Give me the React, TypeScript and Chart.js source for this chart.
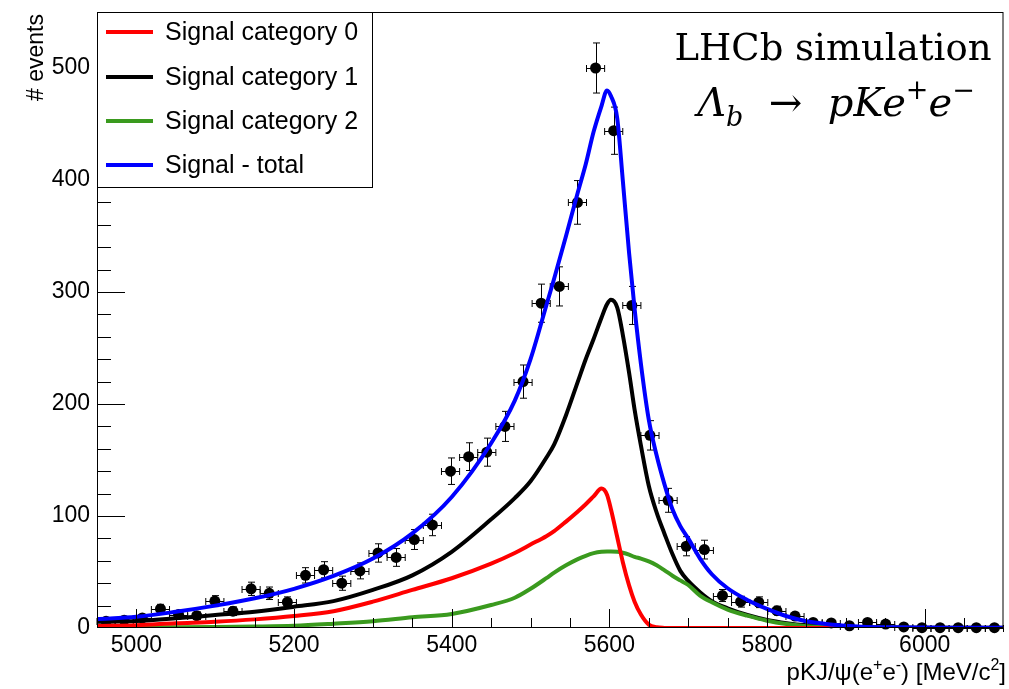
import { useEffect, useRef } from 'react';
import { Chart, registerables } from 'chart.js';

Chart.register(...registerables);

// Measured candidates: bin centres (MeV/c^2), bin half width and counts per bin
const binCenters = [
  4961.5, 4984.5, 5007.5, 5030.5, 5053.5, 5076.5, 5099.5, 5122.5, 5145.5, 5168.5,
  5191.5, 5214.5, 5237.5, 5260.5, 5283.5, 5306.5, 5329.5, 5352.5, 5375.5, 5398.5,
  5421.5, 5444.5, 5467.5, 5490.5, 5513.5, 5536.5, 5559.5, 5582.5, 5605.5, 5628.5,
  5651.5, 5674.5, 5697.5, 5720.5, 5743.5, 5766.5, 5789.5, 5812.5, 5835.5, 5858.5,
  5881.5, 5904.5, 5927.5, 5950.5, 5973.5, 5996.5, 6019.5, 6042.5, 6065.5, 6088.5,
];
const binHalfWidth = 11.5;
const eventCounts = [
  6, 7, 9, 17, 12, 11, 24, 15, 35, 31,
  23, 47, 52, 40, 51, 67, 63, 79, 92, 140,
  153, 157, 180, 220, 290, 305, 380, 500, 444, 288,
  172, 114, 73, 70, 29, 23.5, 23, 15.5, 10.7, 5,
  4.5, 2, 5, 3.5, 1, 0.3, 0.3, 0.3, 0.3, 0.3,
];

// Fitted signal shapes, sampled in mass
const curveMass = [
  4950, 5000, 5050, 5100, 5150, 5200, 5250, 5300, 5350, 5400,
  5450, 5480, 5500, 5520, 5530, 5545, 5560, 5570, 5580, 5590,
  5597, 5602, 5610, 5617, 5625, 5632, 5640, 5650, 5660, 5670,
  5680, 5690, 5700, 5715, 5730, 5750, 5775, 5800, 5825, 5850,
  5880, 5920, 5960, 6000, 6050, 6100,
];
const signalTotal = [
  8, 10, 14.5, 20, 26.5, 35, 46.5, 62, 84.5, 117,
  165, 203, 240, 288, 312, 350, 389, 414, 443, 466,
  480, 475, 455, 400, 335, 285, 236, 186, 154, 128,
  106, 91, 80, 62, 48, 35.5, 25, 17, 10.5, 6,
  3.2, 1.2, 0.6, 0.4, 0.3, 0.2,
];
const signalCat0 = [
  1.8, 2.5, 4.2, 5.6, 7.7, 10.7, 15, 23.5, 34, 44.4,
  57.5, 67, 74.5, 82, 86.5, 95, 104, 110.5, 117.5, 124.5,
  119, 106, 81, 59, 38, 23.5, 12, 3, 0.6, 0.1,
  0, 0, 0, 0, 0, 0, 0, 0, 0, 0,
  0, 0, 0, 0, 0, 0,
];
const signalCat1 = [
  5.5, 6.2, 8.6, 11.6, 14.6, 19, 24, 34, 47, 68,
  97, 116, 131, 152, 164, 190, 220, 240, 258, 277,
  289, 293, 286, 262, 228, 195, 163, 127, 103, 84,
  66, 51, 42, 32, 24, 17.6, 11.6, 7.2, 4.3, 2.4,
  1.2, 0.6, 0.4, 0.3, 0.2, 0.2,
];
const signalCat2 = [
  0.6, 0.6, 0.7, 0.9, 1.3, 2, 3.8, 6, 9.5, 12.5,
  20.5, 27, 35, 44.5, 49.5, 56, 61.5, 64.5, 66.8, 68,
  68.2, 68.2, 68, 67.2, 65.5, 63.5, 62, 59.5, 56, 51.5,
  46.7, 42.5, 38.4, 29, 23, 16.5, 11, 6.5, 3.5, 1.5,
  0.6, 0.3, 0.2, 0.1, 0, 0,
];

const xRange = [4950, 6100];
const yRange = [0, 550];
const xMajorTicks = [5000, 5200, 5400, 5600, 5800, 6000];
const yMajorTicks = [0, 100, 200, 300, 400, 500];
const xMinorStep = 50;
const yMinorStep = 20;

const legendLabels = ['Signal category 0', 'Signal category 1', 'Signal category 2', 'Signal - total'];
const COLOR_CAT0 = '#ff0000';
const COLOR_CAT1 = '#000000';
const COLOR_CAT2 = '#3a9a1e';
const COLOR_TOTAL = '#0000ff';
const legendColors = [COLOR_CAT0, COLOR_CAT1, COLOR_CAT2, COLOR_TOTAL];

const SANS = "'Liberation Sans', Arial, Helvetica, sans-serif";
const SERIF = "'DejaVu Serif', 'Liberation Serif', serif";

type Seg = { t: string; sup?: boolean; sub?: boolean; italic?: boolean };

function drawSegments(
  ctx: CanvasRenderingContext2D,
  segs: Seg[],
  x: number,
  y: number,
  size: number,
  family: string,
  align: 'left' | 'right' | 'center',
) {
  const fontFor = (s: Seg) =>
    `${s.italic ? 'italic ' : ''}${s.sup || s.sub ? Math.round(size * 0.68) : size}px ${family}`;
  let total = 0;
  const widths = segs.map((s) => {
    ctx.font = fontFor(s);
    const w = ctx.measureText(s.t).width;
    total += w;
    return w;
  });
  let cx = align === 'right' ? x - total : align === 'center' ? x - total / 2 : x;
  ctx.textAlign = 'left';
  ctx.textBaseline = 'alphabetic';
  segs.forEach((s, i) => {
    ctx.font = fontFor(s);
    const dy = s.sup ? -size * 0.42 : s.sub ? size * 0.25 : 0;
    ctx.fillText(s.t, cx, y + dy);
    cx += widths[i];
  });
}

const decorPlugin = {
  id: 'decor',
  beforeDatasetsDraw(chart: any) {
    // error bars of the measured points
    const { ctx, scales } = chart;
    const xs = scales.x;
    const ys = scales.y;
    ctx.save();
    ctx.strokeStyle = '#000';
    ctx.lineWidth = 1;
    binCenters.forEach((m, i) => {
      const v = eventCounts[i];
      const err = Math.sqrt(v);
      const px = Math.round(xs.getPixelForValue(m)) + 0.5;
      const py = Math.round(ys.getPixelForValue(v)) + 0.5;
      const xl = xs.getPixelForValue(m - binHalfWidth);
      const xr = xs.getPixelForValue(m + binHalfWidth);
      const yt = ys.getPixelForValue(v + err);
      const yb = ys.getPixelForValue(Math.max(v - err, 0));
      const c = 3.5;
      ctx.beginPath();
      ctx.moveTo(xl, py);
      ctx.lineTo(xr, py);
      ctx.moveTo(xl, py - c);
      ctx.lineTo(xl, py + c);
      ctx.moveTo(xr, py - c);
      ctx.lineTo(xr, py + c);
      ctx.moveTo(px, yt);
      ctx.lineTo(px, yb);
      ctx.moveTo(px - c, yt);
      ctx.lineTo(px + c, yt);
      ctx.moveTo(px - c, yb);
      ctx.lineTo(px + c, yb);
      ctx.stroke();
    });
    ctx.restore();
  },
  afterDatasetsDraw(chart: any) {
    // frame and inward tick marks
    const { ctx, chartArea, scales } = chart;
    const xs = scales.x;
    const ys = scales.y;
    const { left, right, top, bottom } = chartArea;
    ctx.save();
    ctx.strokeStyle = '#000';
    ctx.lineWidth = 1;
    ctx.strokeRect(left + 0.5, top + 0.5, right - left - 1, bottom - top - 1);
    ctx.beginPath();
    for (let v = xRange[0] + xMinorStep; v < xRange[1]; v += xMinorStep) {
      const px = Math.round(xs.getPixelForValue(v)) + 0.5;
      const len = xMajorTicks.includes(v) ? 19 : 10;
      ctx.moveTo(px, bottom);
      ctx.lineTo(px, bottom - len);
    }
    for (let v = yRange[0] + yMinorStep; v < yRange[1]; v += yMinorStep) {
      const py = Math.round(ys.getPixelForValue(v)) + 0.5;
      const len = yMajorTicks.includes(v) ? 28 : 14;
      ctx.moveTo(left, py);
      ctx.lineTo(left + len, py);
    }
    ctx.stroke();
    ctx.restore();
  },
  afterDraw(chart: any) {
    const { ctx, chartArea } = chart;
    ctx.save();

    // legend box
    const bx = chartArea.left + 0.5;
    const by = chartArea.top + 0.5;
    const bw = 275;
    const bh = 175;
    ctx.fillStyle = '#fff';
    ctx.fillRect(bx, by, bw, bh);
    ctx.strokeStyle = '#000';
    ctx.lineWidth = 1;
    ctx.strokeRect(bx, by, bw, bh);
    const rowY = [32, 77, 121, 165];
    legendLabels.forEach((lab, i) => {
      ctx.strokeStyle = legendColors[i];
      ctx.lineWidth = 4;
      ctx.beginPath();
      ctx.moveTo(106, rowY[i]);
      ctx.lineTo(153, rowY[i]);
      ctx.stroke();
      ctx.fillStyle = '#000';
      ctx.font = `25px ${SANS}`;
      ctx.textAlign = 'left';
      ctx.textBaseline = 'middle';
      ctx.fillText(lab, 165, rowY[i] + 1);
    });

    // y axis title
    ctx.save();
    ctx.translate(43, 14);
    ctx.rotate(-Math.PI / 2);
    ctx.fillStyle = '#000';
    ctx.font = `23px ${SANS}`;
    ctx.textAlign = 'right';
    ctx.textBaseline = 'alphabetic';
    ctx.fillText('# events', 0, 0);
    ctx.restore();

    // x axis title
    ctx.fillStyle = '#000';
    drawSegments(
      ctx,
      [
        { t: 'pKJ/\u03c8(e' },
        { t: '+', sup: true },
        { t: 'e' },
        { t: '-', sup: true },
        { t: ') [MeV/c' },
        { t: '2', sup: true },
        { t: ']' },
      ],
      1006,
      680,
      24,
      SANS,
      'right',
    );

    // experiment label
    ctx.font = `37px ${SERIF}`;
    ctx.textAlign = 'center';
    ctx.textBaseline = 'alphabetic';
    ctx.fillText('LHCb simulation', 833, 60);
    drawSegments(
      ctx,
      [
        { t: '\u039b', italic: true },
        { t: 'b', italic: true, sub: true },
        { t: '  \u2192  ' },
        { t: 'pKe', italic: true },
        { t: '+', sup: true },
        { t: 'e', italic: true },
        { t: '\u2212', sup: true },
      ],
      836,
      116,
      40,
      SERIF,
      'center',
    );
    ctx.restore();
  },
};

function toPoints(ys: number[]) {
  return curveMass.map((m, i) => ({ x: m, y: ys[i] }));
}

export default function App() {
  const canvasRef = useRef<HTMLCanvasElement | null>(null);

  useEffect(() => {
    document.body.style.margin = '0';
    const canvas = canvasRef.current;
    if (!canvas) return;
    const curve = (data: number[], color: string, order: number) => ({
      data: toPoints(data),
      showLine: true,
      borderColor: color,
      backgroundColor: color,
      borderWidth: 4,
      borderJoinStyle: 'round' as const,
      pointRadius: 0,
      cubicInterpolationMode: 'monotone' as const,
      fill: false,
      order,
    });
    const chart = new Chart(canvas, {
      type: 'scatter',
      data: {
        datasets: [
          { label: legendLabels[3], ...curve(signalTotal, COLOR_TOTAL, 0) },
          { label: legendLabels[0], ...curve(signalCat0, COLOR_CAT0, 1) },
          { label: legendLabels[2], ...curve(signalCat2, COLOR_CAT2, 2) },
          { label: legendLabels[1], ...curve(signalCat1, COLOR_CAT1, 3) },
          {
            label: 'Data',
            data: binCenters.map((m, i) => ({ x: m, y: eventCounts[i] })),
            showLine: false,
            pointRadius: 5.5,
            pointBackgroundColor: '#000',
            pointBorderWidth: 0,
            order: 4,
            clip: false,
          } as any,
        ],
      },
      options: {
        responsive: false,
        maintainAspectRatio: false,
        devicePixelRatio: 1,
        animation: false,
        events: [],
        layout: { padding: { left: 0, right: 2, top: 12, bottom: 0 } },
        plugins: {
          legend: { display: false },
          tooltip: { enabled: false },
        },
        scales: {
          x: {
            type: 'linear',
            min: xRange[0],
            max: xRange[1],
            grid: { display: false, drawTicks: false },
            border: { display: false },
            ticks: {
              padding: 4,
              color: '#000',
              font: { family: SANS, size: 23 },
              maxRotation: 0,
              callback: (v: any) => String(v),
            },
            afterBuildTicks: (s: any) => {
              s.ticks = xMajorTicks.map((v) => ({ value: v }));
            },
            afterFit: (s: any) => {
              s.height = 61;
              s.paddingLeft = 0;
              s.paddingRight = 0;
            },
          },
          y: {
            type: 'linear',
            min: yRange[0],
            max: yRange[1],
            grid: { display: false, drawTicks: false },
            border: { display: false },
            ticks: {
              padding: 7,
              color: '#000',
              font: { family: SANS, size: 23 },
              callback: (v: any) => String(v),
            },
            afterBuildTicks: (s: any) => {
              s.ticks = yMajorTicks.map((v) => ({ value: v }));
            },
            afterFit: (s: any) => {
              s.width = 97;
              s.paddingTop = 0;
              s.paddingBottom = 0;
            },
          },
        },
      },
      plugins: [decorPlugin],
    });
    return () => chart.destroy();
  }, []);

  return (
    <div style={{ position: 'fixed', left: 0, top: 0, width: 1009, height: 689, background: '#fff' }}>
      <canvas ref={canvasRef} width={1009} height={689} style={{ display: 'block' }} />
    </div>
  );
}
